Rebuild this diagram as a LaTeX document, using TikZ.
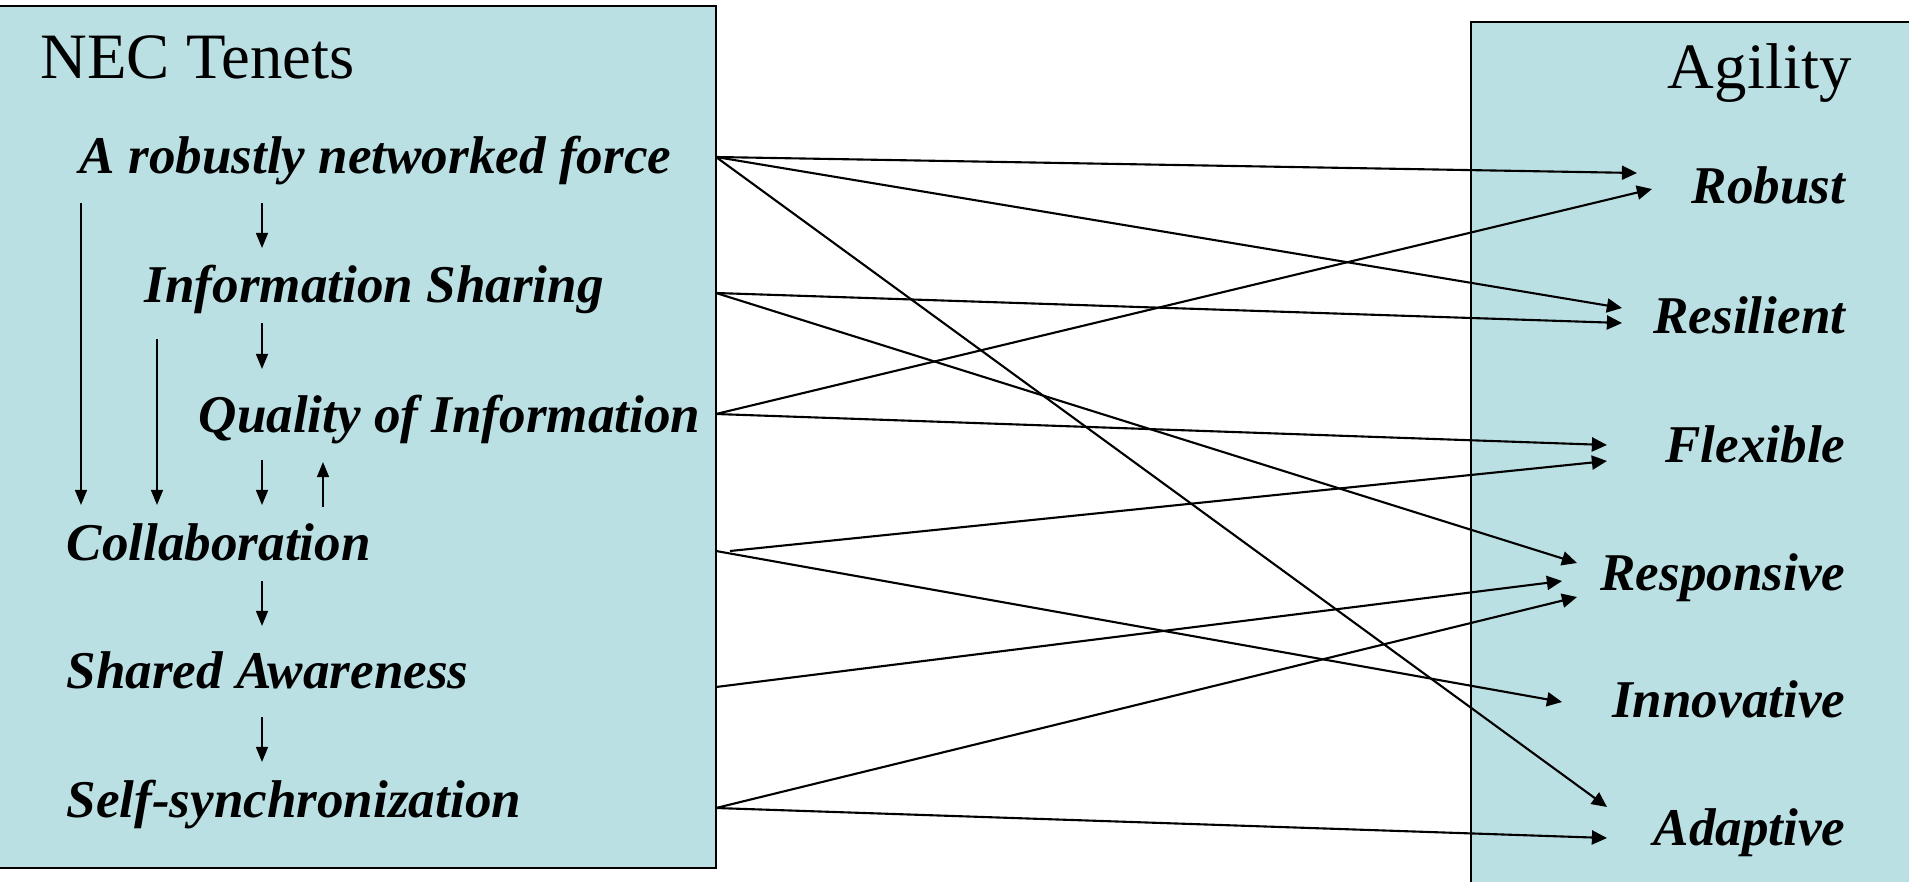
\documentclass[tikz,border=0pt]{standalone}
\usepackage{fontspec}
\setmainfont{Liberation Serif}
\usetikzlibrary{arrows.meta}

\definecolor{panel}{RGB}{187,224,228}

\begin{document}
\begin{tikzpicture}[x=0.01cm, y=-0.01cm,
    panelbox/.style={draw=black, line width=0.7pt, fill=panel},
    heading/.style={font=\fontsize{18.4}{20}\selectfont, inner sep=0pt},
    tenet/.style={font=\fontsize{15.1}{17}\selectfont\bfseries\itshape, inner sep=0pt, anchor=base west},
    trait/.style={font=\fontsize{15.1}{17}\selectfont\bfseries\itshape, inner sep=0pt, anchor=base east},
    link/.style={line width=0.6pt, -{Triangle[length=4.3pt,width=4pt]}},
    flow/.style={line width=0.5pt, -{Triangle[length=4.3pt,width=3.4pt]}},
  ]
  \useasboundingbox (0,0) rectangle (1909,882);
  \draw[panelbox] (-10,6) rectangle (716,868);
  \draw[panelbox] (1471,22) rectangle (1925,900);

  \node[heading, anchor=base west] (nec) at (40,79) {NEC Tenets};
  \node[heading, anchor=base east] (agility) at (1852,89) {Agility};

  \node[tenet] (net) at (79,174) {A robustly networked force};
  \node[tenet] (info) at (144,302) {Information Sharing};
  \node[tenet] (qual) at (198,432) {Quality of Information};
  \node[tenet] (coll) at (66,560) {Collaboration};
  \node[tenet] (aware) at (66,688) {Shared Awareness};
  \node[tenet] (sync) at (66,817) {Self-synchronization};

  \foreach \name/\word/\y in {rob/Robust/203, res/Resilient/333, flex/Flexible/462,
      resp/Responsive/590, inno/Innovative/717, ada/Adaptive/845}
    \node[trait] (\name) at (1846,\y) {\word};

  % ends of the links
  \foreach \name/\x/\y in {oNet/716/157, oInfo/716/293, oQual/716/414, oColl/716/551,
      oCollB/730/551, oAware/716/687, oSync/716/808,
      iRobA/1637/173, iRobB/1652/189, iResA/1622/308, iResB/1622/323,
      iFlexA/1607/445, iFlexB/1607/461, iRespA/1577/563, iRespB/1562/581,
      iRespC/1577/597, iInno/1562/702, iAdaA/1607/807, iAdaB/1607/838}
    \coordinate (\name) at (\x,\y);

  \foreach \a/\b in {oNet/iRobA, oNet/iResA, oNet/iAdaA, oInfo/iResB, oInfo/iRespA,
      oQual/iRobB, oQual/iFlexA, oCollB/iFlexB, oColl/iInno, oAware/iRespB,
      oSync/iRespC, oSync/iAdaB}
    \draw[link] (\a) -- (\b);

  % steps inside the tenets box
  \foreach \name/\x/\y in {sA/262/203, tA/262/248, sB/262/323, tB/262/369,
      sC/262/460, tC/262/505, sD/323/507, tD/323/462, sE/81/203, tE/81/505,
      sF/157/339, tF/157/505, sG/262/581, tG/262/626, sH/262/717, tH/262/762}
    \coordinate (\name) at (\x,\y);

  \foreach \k in {A,...,H}
    \draw[flow] (s\k) -- (t\k);
\end{tikzpicture}
\end{document}
